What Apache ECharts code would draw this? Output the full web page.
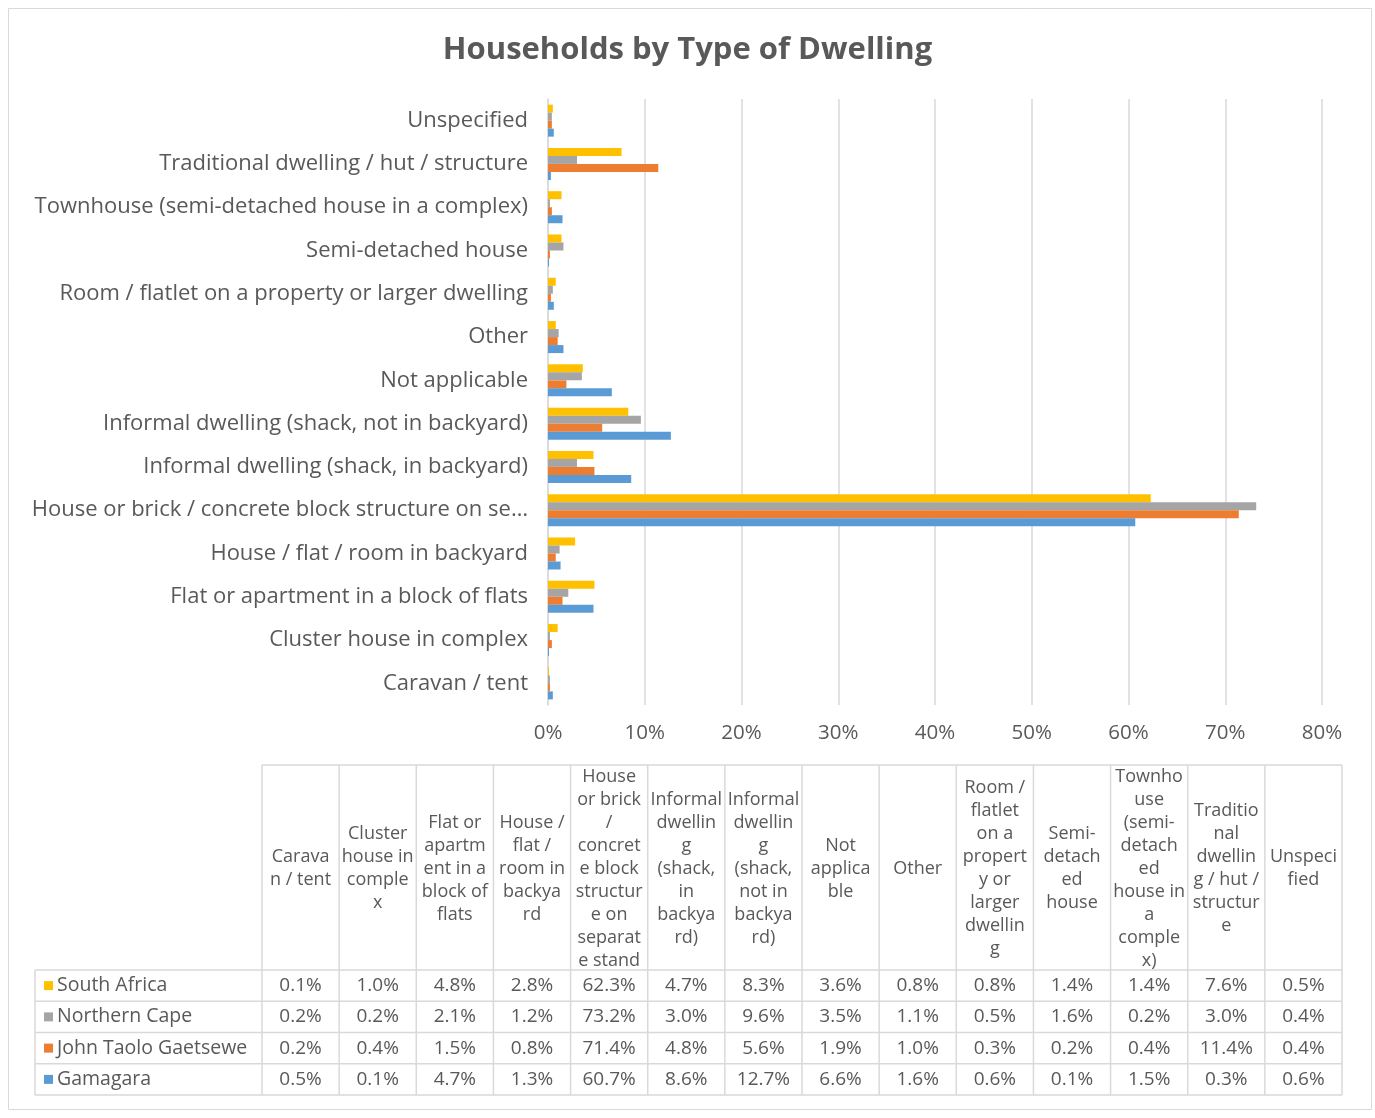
<!DOCTYPE html>
<html><head><meta charset="utf-8">
<script src="https://cdn.jsdelivr.net/npm/echarts@6/dist/echarts.min.js"></script>
<style>html,body{margin:0;padding:0;background:#fff}#c{width:1375px;height:1118px}</style>
</head><body><div id="c"></div>
<script>
const categories = ["Caravan / tent","Cluster house in complex","Flat or apartment in a block of flats","House / flat / room in backyard","House or brick / concrete block structure on separate stand","Informal dwelling (shack, in backyard)","Informal dwelling (shack, not in backyard)","Not applicable","Other","Room / flatlet on a property or larger dwelling","Semi-detached house","Townhouse (semi-detached house in a complex)","Traditional dwelling / hut / structure","Unspecified"];
const tableHeaders = ["Carava\nn / tent","Cluster\nhouse in\ncomple\nx","Flat or\napartm\nent in a\nblock of\nflats","House /\nflat /\nroom in\nbackya\nrd","House\nor brick\n/\nconcret\ne block\nstructur\ne on\nseparat\ne stand","Informal\ndwellin\ng\n(shack,\nin\nbackya\nrd)","Informal\ndwellin\ng\n(shack,\nnot in\nbackya\nrd)","Not\napplica\nble","Other","Room /\nflatlet\non a\npropert\ny or\nlarger\ndwellin\ng","Semi-\ndetach\ned\nhouse","Townho\nuse\n(semi-\ndetach\ned\nhouse in\na\ncomple\nx)","Traditio\nnal\ndwellin\ng / hut /\nstructur\ne","Unspeci\nfied"];
const seriesNames = ["South Africa","Northern Cape","John Taolo Gaetsewe","Gamagara"];
const southAfrica = [0.1,1.0,4.8,2.8,62.3,4.7,8.3,3.6,0.8,0.8,1.4,1.4,7.6,0.5];
const northernCape = [0.2,0.2,2.1,1.2,73.2,3.0,9.6,3.5,1.1,0.5,1.6,0.2,3.0,0.4];
const johnTaolo = [0.2,0.4,1.5,0.8,71.4,4.8,5.6,1.9,1.0,0.3,0.2,0.4,11.4,0.4];
const gamagara = [0.5,0.1,4.7,1.3,60.7,8.6,12.7,6.6,1.6,0.6,0.1,1.5,0.3,0.6];
const xTicks = [0,10,20,30,40,50,60,70,80];

const colors = ['#FFC000','#A5A5A5','#ED7D31','#5B9BD5'];
const allSeries = [southAfrica, northernCape, johnTaolo, gamagara];
const FONT = '"Open Sans", Lato, sans-serif';
const TXT = '#595959';
const LINE = '#d9d9d9';

const chart = echarts.init(document.getElementById('c'), null, {renderer:'canvas'});

const g = [];
g.push({type:'rect', shape:{x:8.5,y:8.5,width:1363,height:1101}, style:{fill:'none', stroke:LINE, lineWidth:1}, silent:true});
const tL = 262, tR = 1342, colW = (tR - tL) / categories.length;
const hTop = 765, hBot = 970, rowH = 31.25, labL = 35;
for (let i = 0; i <= categories.length; i++) {
  const x = tL + i * colW;
  g.push({type:'line', shape:{x1:x,y1:hTop,x2:x,y2:hBot+4*rowH}, style:{stroke:LINE,lineWidth:1.5}, silent:true});
}
g.push({type:'line', shape:{x1:labL,y1:hBot,x2:labL,y2:hBot+4*rowH}, style:{stroke:LINE,lineWidth:1.5}, silent:true});
g.push({type:'line', shape:{x1:tL,y1:hTop,x2:tR,y2:hTop}, style:{stroke:LINE,lineWidth:1.5}, silent:true});
for (let r = 0; r <= 4; r++) {
  const y = hBot + r * rowH;
  g.push({type:'line', shape:{x1:labL,y1:y,x2:tR,y2:y}, style:{stroke:LINE,lineWidth:1.5}, silent:true});
}
tableHeaders.forEach((h, i) => {
  g.push({type:'text', silent:true, style:{text:h, x:tL + (i+0.5)*colW, y:(hTop+hBot)/2 + 1, align:'center', verticalAlign:'middle', fontSize:18, lineHeight:23, fontFamily:FONT, fill:TXT}});
});
seriesNames.forEach((name, r) => {
  const yc = hBot + (r + 0.5) * rowH;
  g.push({type:'rect', silent:true, shape:{x:44,y:yc-4.5,width:9,height:9}, style:{fill:colors[r]}});
  g.push({type:'text', silent:true, style:{text:name, x:57, y:yc, align:'left', verticalAlign:'middle', fontSize:19.5, fontFamily:FONT, fill:TXT}});
  allSeries[r].forEach((v, i) => {
    g.push({type:'text', silent:true, style:{text:v.toFixed(1)+'%', x:tL + (i+0.5)*colW, y:yc, align:'center', verticalAlign:'middle', fontSize:19, fontFamily:FONT, fill:TXT}});
  });
});

chart.setOption({
  animation:false,
  backgroundColor:'#fff',
  title:{text:'Households by Type of Dwelling', left:'center', top:30, textStyle:{fontFamily:FONT, fontSize:31, fontWeight:'bold', color:TXT}},
  grid:{left:548, right:53, top:99, height:606, containLabel:false},
  xAxis:{type:'value', min:0, max:80, interval:10,
    axisLine:{show:false}, axisTick:{show:false},
    axisLabel:{formatter:'{value}%', fontSize:20.5, fontFamily:FONT, color:TXT, margin:18},
    splitLine:{lineStyle:{color:LINE, width:1.5}}},
  yAxis:{type:'category', data:categories,
    axisLine:{show:true, lineStyle:{color:LINE, width:1.5}}, axisTick:{show:false},
    axisLabel:{fontSize:22, fontFamily:FONT, color:TXT, margin:20, width:508, overflow:'truncate', ellipsis:'…'}},
  series: seriesNames.map((n, i) => ({
    name:n, type:'bar', data:allSeries[i], barGap:'0%', barCategoryGap:'26%',
    itemStyle:{color:colors[i]}
  })),
  graphic:g
});
</script></body></html>
